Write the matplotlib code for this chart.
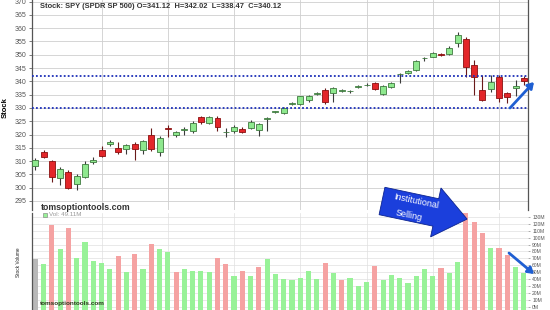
import matplotlib
matplotlib.use("Agg")
import matplotlib.pyplot as plt
from matplotlib.patches import Polygon, FancyArrowPatch
import numpy as np

# ---------------- data ----------------
opens = [308, 313.3, 310, 303.5, 306, 301.5, 304, 309.5, 314, 316.3,
         315, 314.5, 316.5, 314.2, 320, 313.3, 322.3, 319.8, 321.8, 321.2,
         326.4, 324.5, 326.3, 320.8, 321.3, 322.1, 322.4, 321.7, 326, 328.4,
         328, 331.6, 331.5, 333, 335.4, 336.8, 335.5, 336.4, 336.3, 337.9,
         338.6, 339.3, 335.3, 337.8, 342.6, 343, 344.3, 348.6, 349.3, 350.1,
         350.2, 354.3, 355.8, 346.2, 336.8, 337.2, 341.8, 335.5, 337.5, 341.12]
highs = [311, 314.2, 310.5, 307.8, 306.5, 305, 310, 311.5, 315.5, 317.8,
         317, 316.5, 317, 318, 322.6, 319.5, 323.6, 321.5, 323, 325,
         327, 327, 327, 322.5, 323.5, 323, 325.5, 324.5, 326.5, 329,
         330.2, 332.2, 334.6, 334.8, 336, 337.5, 338, 337, 336.9, 338.5,
         339.3, 339.8, 338.8, 339.8, 343.2, 344.2, 348.2, 349.2, 351, 350.5,
         353.2, 358.7, 356.5, 348, 342.4, 342.4, 342.3, 336, 340.5, 342.02]
lows = [306.7, 311, 302.3, 301, 299.5, 299.1, 303.5, 309, 311.5, 315.8,
        312.8, 312.5, 310.4, 312.5, 313.8, 311.9, 319.2, 319, 319.8, 320.5,
        324, 324, 321.5, 319.2, 320.5, 320.5, 322, 319.5, 321.2, 328,
        327.8, 331, 331.2, 332.1, 334.8, 331.5, 332.4, 336, 335.8, 337.5,
        338.2, 336.6, 335, 337.5, 339.3, 342.7, 344, 347.5, 349, 349.5,
        349.8, 353.1, 341.8, 334.9, 332.5, 336.1, 332.4, 331.8, 334.3, 338.47]
closes = [310.5, 311.7, 304, 307, 300, 304.5, 308.8, 310.4, 312, 317,
          313.5, 316, 314.5, 317.6, 314.5, 318.8, 322, 321, 322, 324.2,
          324.6, 326.7, 323, 321, 323, 321.1, 324.8, 324, 326.2, 328.7,
          329.9, 331.9, 334.3, 334.3, 335.6, 332.1, 337.4, 336.6, 336.5, 338.1,
          338.8, 337, 338.3, 339.3, 342.9, 343.9, 347.7, 348.8, 350.6, 349.9,
          352.7, 357.5, 345.3, 341.8, 333, 339.7, 333.9, 334, 338.3, 340.12]
volumes = [69, 62, 118, 83, 113.6, 71, 94, 66.6, 63, 55,
           73.7, 51, 77, 54, 91, 83, 79, 51, 54, 51.7,
           51.7, 50, 71, 62, 44.6, 52, 44.6, 57, 69, 48,
           40, 38.5, 42, 52.5, 40, 63, 49, 38.5, 42, 30.5,
           36, 59.6, 39.4, 46.5, 42, 33.8, 44.6, 55, 44.6, 56,
           49, 65, 134.8, 122, 106.6, 84.5, 84.5, 74.6, 57, 49]
vol_dirs = list("xgrgrggggg" "rgrgrggrgg" "ggrrgrgrgg" "gggggrgrgg"
                "grgggggggr" "ggrrrgrrgg")
price_ticks = list(range(295, 371, 5))
vol_ticks = list(range(0, 131, 10))
vol_tick_labels = [f"{v}M" for v in vol_ticks]
support_levels = [342, 330]
title_text = "Stock: SPY (SPDR SP 500) O=341.12  H=342.02  L=338.47  C=340.12"

# ---------------- figure ----------------
W, H = 550, 310
fig = plt.figure(figsize=(W / 100, H / 100), dpi=100)
fig.patch.set_facecolor("white")


def fp(x, y):
    return (x / W, 1 - y / H)


n = len(opens)
xs = np.arange(n)
xlim = (-0.4, 59.5)

ax = fig.add_axes([32 / W, 1 - 210 / H, 496 / W, 210 / H])
ax.set_xlim(*xlim)
ax.set_ylim(291.6, 370.6)
ax.set_yticks(price_ticks)
ax.set_yticklabels([str(t) for t in price_ticks], fontsize=5, color="#555555",
                   family="Liberation Sans")
ax.set_xticks(range(8, 57, 8))
ax.set_xticklabels([])
ax.tick_params(axis="x", length=0)
ax.tick_params(axis="y", length=2.5, width=0.6, color="#666666", pad=1.5)
ax.grid(True, color="#cfcfcf", lw=0.6)
ax.set_axisbelow(True)
for s in ["top", "bottom"]:
    ax.spines[s].set_visible(False)
for s in ["left", "right"]:
    ax.spines[s].set_color("#555555")
    ax.spines[s].set_linewidth(0.9)

green_body = "#8ee88e"
green_edge = "#3f7a3f"
red_body = "#e3262a"
red_edge = "#8a1010"
for i in range(n):
    o, h, l, c = opens[i], highs[i], lows[i], closes[i]
    up = c >= o
    ax.vlines(xs[i], l, h, color="#3a3a3a" if up else "#6a1a1a", lw=0.8, zorder=2)
    bh = max(abs(c - o), 0.12)
    ax.bar(xs[i], bh, bottom=min(o, c), width=0.72,
           color=green_body if up else red_body,
           edgecolor=green_edge if up else red_edge, lw=0.6, zorder=3)

for lvl in support_levels:
    ax.axhline(lvl, color="#1c2fb8", ls=(0, (1, 1.2)), lw=1.3, zorder=4)

ax.set_ylabel("Stock", fontsize=5.5, fontweight="bold", labelpad=2,
              family="Liberation Sans")
ax.yaxis.set_label_coords(-0.047, 0.49)

fig.text(40 / W, 1 - 7 / H, title_text, fontsize=5.4, fontweight="bold",
         color="#333333", va="center", ha="left", family="Liberation Sans")
fig.text(41 / W, 1 - 207 / H, "tomsoptiontools.com", fontsize=6.3,
         fontweight="bold", color="#333333", va="center", ha="left",
         family="Liberation Sans")

# ---------------- volume panel ----------------
axv = fig.add_axes([32 / W, 0, 496 / W, 97 / H])
axv.patch.set_alpha(0)
axv.set_xlim(*xlim)
axv.set_ylim(-4.5, 135.5)
cmap = {"g": "#98f298", "r": "#f5a2a2", "x": "#b8b8b8"}
axv.bar(xs, [v + 4.5 for v in volumes], bottom=-4.5, width=0.62,
        color=[cmap[d] for d in vol_dirs], zorder=2)
axv.set_xticks(range(8, 57, 8))
axv.set_xticklabels([])
axv.tick_params(axis="x", length=0)
axv.yaxis.tick_right()
axv.set_yticks(vol_ticks)
axv.set_yticklabels(vol_tick_labels, fontsize=3.6, color="#555555",
                    family="Liberation Sans")
axv.tick_params(axis="y", length=1.5, width=0.5, color="#888888", pad=1.5)
axv.grid(True, color="#e0e0e0", lw=0.5)
axv.set_axisbelow(True)
for s in ["top", "bottom", "right"]:
    axv.spines[s].set_visible(False)
axv.spines["left"].set_color("#555555")
axv.spines["left"].set_linewidth(0.9)

fig.text(19 / W, 1 - 262 / H, "Stock Volume", fontsize=3.4, rotation=90,
         color="#222222", va="center", ha="center", family="Liberation Sans")
fig.patches.append(plt.Rectangle(fp(43, 217), 4 / W, 4 / H, transform=fig.transFigure,
                                 facecolor="#98f298", edgecolor="#777777", lw=0.4))
fig.text(49 / W, 1 - 215 / H, "Vol: 49.11M", fontsize=4.5, color="#999999",
         va="center", ha="left", family="Liberation Sans")
fig.text(40 / W, 1 - 304 / H, "tomsoptiontools.com", fontsize=4.6,
         fontweight="bold", color="#2e3a1e", va="center", ha="left",
         family="Liberation Sans", zorder=5)

# ---------------- annotations ----------------
a = np.deg2rad(12)
d = np.array([np.cos(a), np.sin(a)])
nv = np.array([-np.sin(a), np.cos(a)])
T = np.array([382.0, 201.0])
B = T + 55 * d
tip = T + 87 * d
pts_px = [T - 14 * nv, B - 14 * nv, B - 25 * nv, tip, B + 25 * nv, B + 14 * nv, T + 14 * nv]
pts = [fp(p[0], p[1]) for p in pts_px]
fig.patches.append(Polygon(pts, closed=True, transform=fig.transFigure,
                           facecolor="#1b3fdc", edgecolor="#0c2490", lw=0.6, zorder=10))
fig.text(416 / W, 1 - 201 / H, "Institutional", fontsize=6.5, color="white",
         rotation=-12, va="center", ha="center", family="Liberation Sans", zorder=11)
fig.text(409 / W, 1 - 215 / H, "Selling", fontsize=6.5, color="white",
         rotation=-12, va="center", ha="center", family="Liberation Sans", zorder=11)

arrow_color = "#1f5fd2"
fig.patches.append(FancyArrowPatch(fp(510, 108), fp(534, 82), transform=fig.transFigure,
                                   arrowstyle="-|>,head_length=3.5,head_width=2.2",
                                   color=arrow_color, lw=2.0, zorder=10,
                                   shrinkA=0, shrinkB=0))
fig.patches.append(FancyArrowPatch(fp(509, 253), fp(534, 274), transform=fig.transFigure,
                                   arrowstyle="-|>,head_length=3.5,head_width=2.2",
                                   color=arrow_color, lw=2.0, zorder=10,
                                   shrinkA=0, shrinkB=0))

fig.savefig("out.png", dpi=100)
